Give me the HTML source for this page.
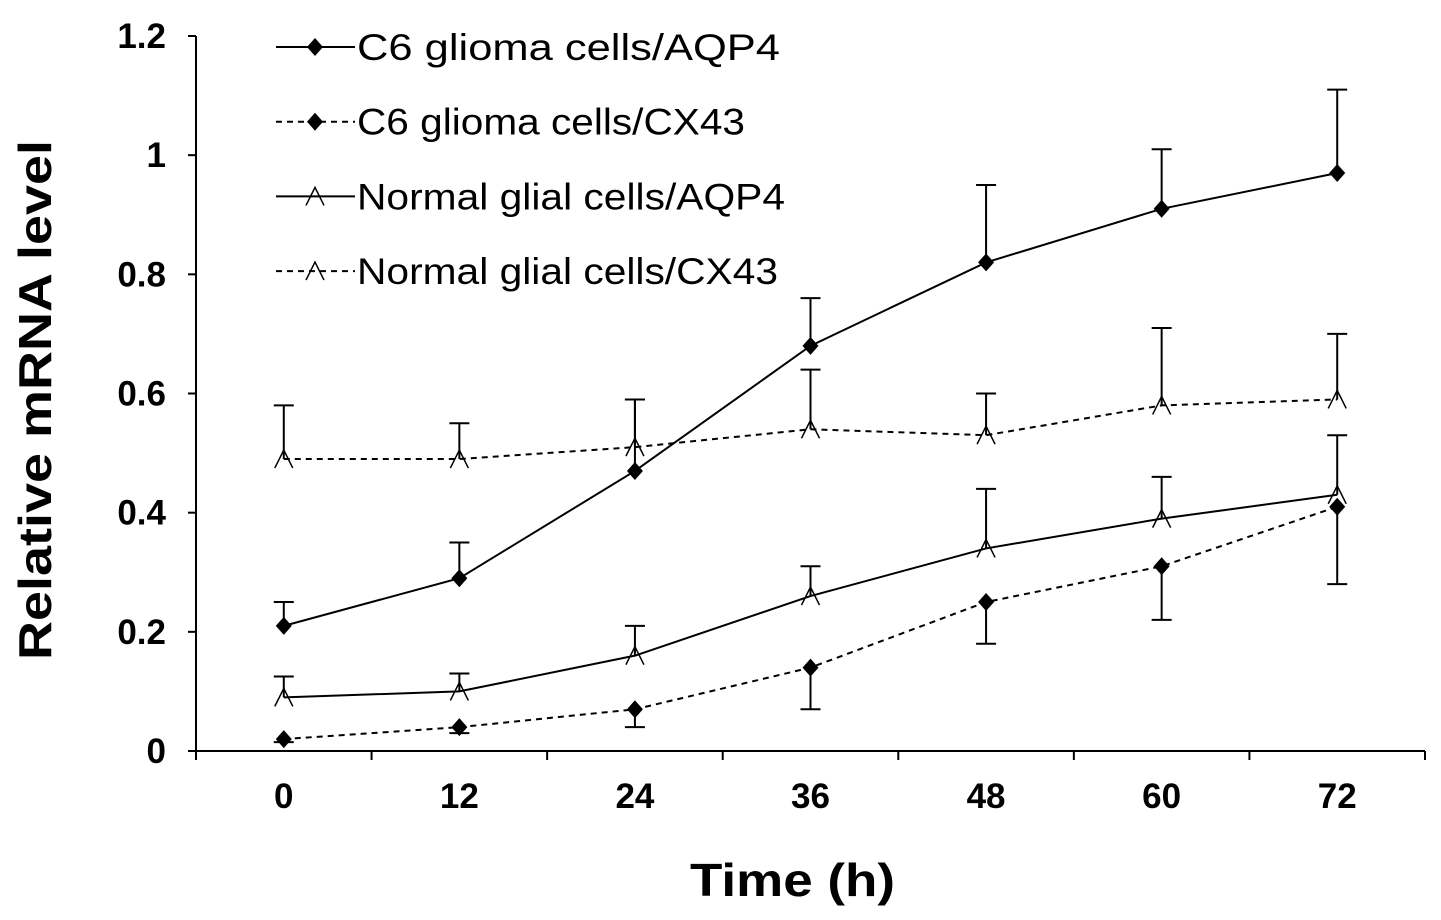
<!DOCTYPE html>
<html><head><meta charset="utf-8"><style>
body{margin:0;background:#fff}
svg{display:block;font-family:"Liberation Sans",Arial,sans-serif}
</style></head><body>
<svg id="c" width="1441" height="920"></svg>
<script>
const categories=[0,12,24,36,48,60,72];
const yTicks=[0,0.2,0.4,0.6,0.8,1,1.2];
const yTickLabels=["0","0.2","0.4","0.6","0.8","1","1.2"];
const c6Aqp4=[0.21,0.29,0.47,0.68,0.82,0.91,0.97];
const c6Aqp4Err=[0.04,0.06,0.12,0.08,0.13,0.10,0.14];
const c6Cx43=[0.02,0.04,0.07,0.14,0.25,0.31,0.41];
const c6Cx43Err=[0.005,0.01,0.03,0.07,0.07,0.09,0.13];
const normAqp4=[0.09,0.10,0.16,0.26,0.34,0.39,0.43];
const normAqp4Err=[0.035,0.03,0.05,0.05,0.10,0.07,0.10];
const normCx43=[0.49,0.49,0.51,0.54,0.53,0.58,0.59];
const normCx43Err=[0.09,0.06,0.08,0.10,0.07,0.13,0.11];
const seriesNames=["C6 glioma cells/AQP4","C6 glioma cells/CX43","Normal glial cells/AQP4","Normal glial cells/CX43"];
const legendWidths=[423,388,428,421];

const svg=document.getElementById('c');const NS='http://www.w3.org/2000/svg';
function mk(t,a,p){const e=document.createElementNS(NS,t);for(const k in a)e.setAttribute(k,a[k]);(p||svg).appendChild(e);return e;}
const x0=196,x1=1425,y0=751,y1=36;
const step=(x1-x0)/categories.length;
const X=i=>x0+step*(i+0.5);
const Y=v=>y0-(v/1.2)*(y0-y1);
let ax=mk('g',{});
mk('line',{x1:x0,y1:y1,x2:x0,y2:y0,stroke:'#000','stroke-width':2},ax);
yTicks.forEach((v,i)=>{mk('line',{x1:x0-8,y1:Y(v),x2:x0,y2:Y(v),stroke:'#000','stroke-width':2},ax);
 const t=mk('text',{x:x0-30,y:Y(v)+12,'text-anchor':'end','font-size':35,'font-weight':'bold'},ax);t.textContent=yTickLabels[i];
 });
let bx=mk('g',{});
mk('line',{x1:x0,y1:y0,x2:x1,y2:y0,stroke:'#000','stroke-width':2},bx);
for(let i=0;i<=categories.length;i++)mk('line',{x1:x0+step*i,y1:y0,x2:x0+step*i,y2:y0+9,stroke:'#000','stroke-width':2},bx);
categories.forEach((c,i)=>{const t=mk('text',{x:X(i),y:808,'text-anchor':'middle','font-size':35,'font-weight':'bold'},bx);t.textContent=c;
 });
let t=mk('text',{x:690,y:896,'font-size':46,'font-weight':'bold',textLength:205,lengthAdjust:'spacingAndGlyphs'});t.textContent='Time (h)';

t=mk('text',{x:0,y:0,'font-size':46,'font-weight':'bold',textLength:520,lengthAdjust:'spacingAndGlyphs',transform:'translate(51,660) rotate(-90)'});t.textContent='Relative mRNA level';


function marker(g,x,y,type){
 if(type==='d')mk('polygon',{points:`${x},${y-9} ${x+8},${y} ${x},${y+9} ${x-8},${y}`,fill:'#000'},g);
 else mk('polyline',{points:`${x-9},${y+9} ${x},${y-9} ${x+9},${y+9}`,fill:'none',stroke:'#000','stroke-width':1.5},g);
}
function series(vals,errs,dash,type,down,name){
 const g=mk('g',{});
 vals.forEach((v,i)=>{const e=down?v-errs[i]:v+errs[i];
  mk('line',{x1:X(i),y1:Y(v),x2:X(i),y2:Y(e),stroke:'#000','stroke-width':2},g);
  mk('line',{x1:X(i)-10,y1:Y(e),x2:X(i)+10,y2:Y(e),stroke:'#000','stroke-width':2},g);});
 mk('polyline',{points:vals.map((v,i)=>X(i)+','+Y(v)).join(' '),fill:'none',stroke:'#000','stroke-width':2,'stroke-dasharray':dash?'6,5':'none'},g);
 vals.forEach((v,i)=>marker(g,X(i),Y(v),type));
}
series(normCx43,normCx43Err,true,'t',false,'series-normal-cx43');
series(normAqp4,normAqp4Err,false,'t',false,'series-normal-aqp4');
series(c6Cx43,c6Cx43Err,true,'d',true,'series-c6-cx43');
series(c6Aqp4,c6Aqp4Err,false,'d',false,'series-c6-aqp4');
const types=[['d',false],['d',true],['t',false],['t',true]];
seriesNames.forEach((n,i)=>{const y=47+i*74.7;const g=mk('g',{});
 mk('line',{x1:276,y1:y,x2:355,y2:y,stroke:'#000','stroke-width':2,'stroke-dasharray':types[i][1]?'6,5':'none'},g);
 marker(g,315,y,types[i][0]);
 const tt=mk('text',{x:357,y:y+13,'font-size':37,textLength:legendWidths[i],lengthAdjust:'spacingAndGlyphs'},g);tt.textContent=n;});
</script>
</body></html>
